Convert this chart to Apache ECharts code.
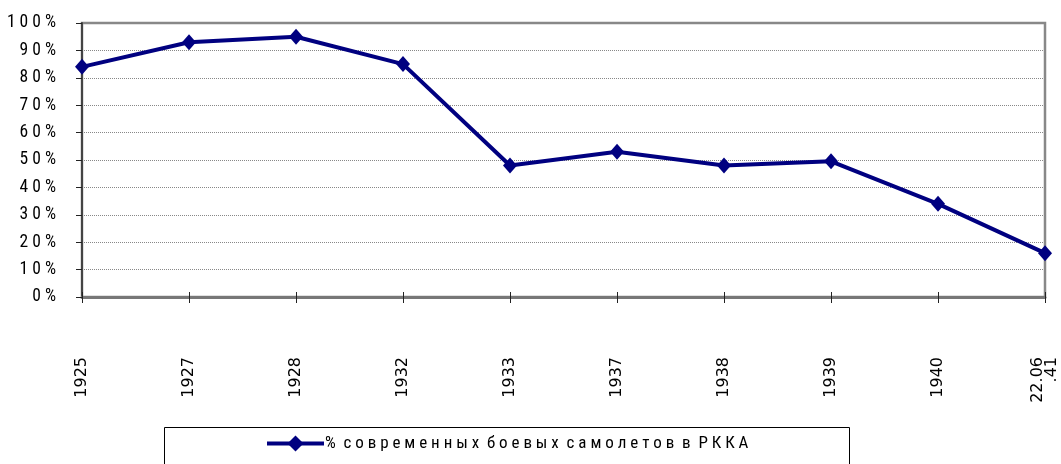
<!DOCTYPE html>
<html>
<head>
<meta charset="utf-8">
<script src="https://cdn.jsdelivr.net/npm/echarts@6/dist/echarts.min.js"></script>
<style>html,body{margin:0;padding:0;background:#fff}#c{width:1061px;height:464px}</style>
</head>
<body>
<div id="c"></div>
<script>
const categories = ['1925', '1927', '1928', '1932', '1933', '1937', '1938', '1939', '1940', '22.06\n.41'];
const seriesName = '% современных боевых самолетов в РККА';
const values = [84, 93, 95, 85, 48, 53, 48, 49.5, 34, 16];
const yTicks = [0, 10, 20, 30, 40, 50, 60, 70, 80, 90, 100];

function spaced(s) {
  return s.split(' ').map(w => w.split('').join(' ')).join('  ');
}
const narrow = "'Roboto Condensed', 'Liberation Sans Narrow', 'Liberation Sans', Arial, sans-serif";

const chart = echarts.init(document.getElementById('c'), null, {renderer: 'canvas'});
chart.setOption({
  animation: false,
  backgroundColor: '#fff',
  grid: {
    left: 82, right: 16, top: 23, bottom: 167, outerBoundsMode: 'none',
    show: true, borderColor: '#888', borderWidth: 2.5, backgroundColor: 'transparent'
  },
  legend: {
    left: 260, top: 430, padding: 5,
    itemWidth: 57, itemHeight: 20, itemGap: 10,
    lineStyle: {width: 4},
    textStyle: {fontFamily: narrow, fontSize: 17, color: '#000', padding: [0, 0, 0, -4]},
    formatter: n => spaced(n),
    data: [seriesName]
  },
  graphic: [{
    type: 'rect', shape: {x: 164.5, y: 427.5, width: 685, height: 60},
    style: {fill: 'none', stroke: '#000', lineWidth: 1}, silent: true
  }],
  xAxis: [{
    type: 'category', data: categories, boundaryGap: false,
    axisLine: {lineStyle: {color: '#777', width: 3}},
    axisTick: {show: true, length: 6, lineStyle: {color: '#222', width: 1}},
    axisLabel: {
      rotate: 90, margin: 60, interval: 0,
      fontFamily: "'DejaVu Sans', sans-serif", fontSize: 16, color: '#000', lineHeight: 14
    },
    splitLine: {show: false}
  }, {
    type: 'category', data: categories, boundaryGap: false, position: 'bottom',
    axisLine: {show: false},
    axisTick: {show: true, inside: true, length: 5, lineStyle: {color: '#222', width: 1}},
    axisLabel: {show: false}, splitLine: {show: false}
  }],
  yAxis: {
    type: 'value', min: yTicks[0], max: yTicks[yTicks.length - 1], interval: 10,
    axisLine: {show: true, lineStyle: {color: '#444', width: 2}},
    axisTick: {show: true, length: 6, lineStyle: {color: '#222', width: 1}},
    axisLabel: {
      margin: 26, fontFamily: narrow, fontSize: 17.5, color: '#000',
      formatter: v => spaced(String(v) + '%')
    },
    splitLine: {show: true, lineStyle: {color: '#888', width: 1, type: [1, 1]}}
  },
  series: [{
    name: seriesName, type: 'line', data: values, xAxisIndex: 0,
    symbol: 'diamond', symbolSize: [14, 16],
    lineStyle: {color: '#000080', width: 4},
    itemStyle: {color: '#000080'},
    z: 5
  }]
});
</script>
</body>
</html>
